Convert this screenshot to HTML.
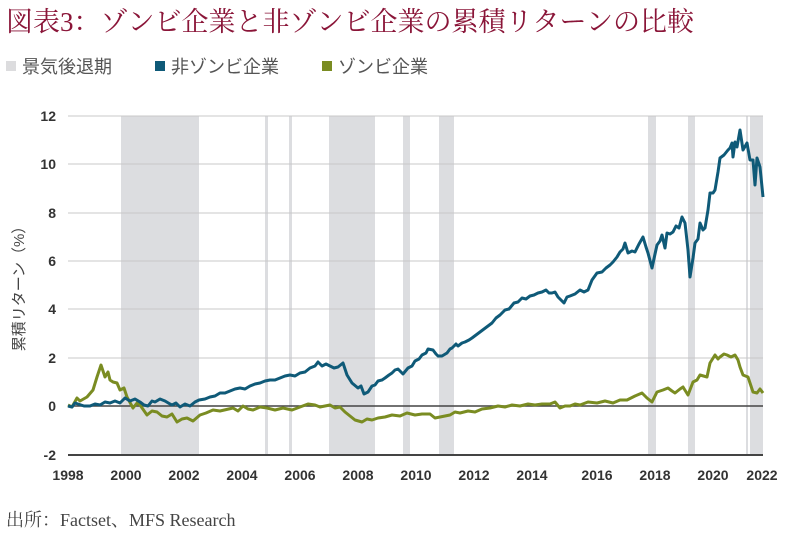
<!DOCTYPE html>
<html><head><meta charset="utf-8">
<style>
body{margin:0;background:#fff;width:800px;height:544px;overflow:hidden}
svg{display:block}
</style></head><body>
<svg width="800" height="544" viewBox="0 0 800 544" xmlns="http://www.w3.org/2000/svg">
<text x="6" y="31" font-family="Liberation Serif, Noto Serif CJK SC, serif" font-size="27" fill="#8a1538">図表3：ゾンビ企業と非ゾンビ企業の累積リターンの比較</text>
<g font-family="Liberation Sans, Noto Sans CJK JP, sans-serif" font-size="18" fill="#555">
<rect x="6" y="61" width="10" height="10" fill="#dcdcde"/><text x="22" y="73">景気後退期</text>
<rect x="155" y="61" width="10" height="10" fill="#0f5a78"/><text x="171" y="73">非ゾンビ企業</text>
<rect x="322" y="61" width="10" height="10" fill="#7a8c22"/><text x="338" y="73">ゾンビ企業</text>
</g>
<g fill="#dcdde0">
<rect x="121" y="116" width="78" height="339"/>
<rect x="265" y="116" width="3" height="339"/>
<rect x="289" y="116" width="3" height="339"/>
<rect x="329" y="116" width="46" height="339"/>
<rect x="403" y="116" width="7" height="339"/>
<rect x="439" y="116" width="15" height="339"/>
<rect x="648" y="116" width="8" height="339"/>
<rect x="688" y="116" width="7" height="339"/>
<rect x="746" y="116" width="2" height="339"/>
<rect x="750" y="116" width="13" height="339"/>
</g>
<g stroke="#c8c8c8" stroke-width="1">
<line x1="68" x2="763" y1="116" y2="116"/><line x1="68" x2="763" y1="164" y2="164"/>
<line x1="68" x2="763" y1="213" y2="213"/><line x1="68" x2="763" y1="261" y2="261"/>
<line x1="68" x2="763" y1="309" y2="309"/><line x1="68" x2="763" y1="358" y2="358"/>
</g>
<line x1="68" x2="763" y1="406" y2="406" stroke="#444" stroke-width="1.5"/>
<line x1="68" x2="763" y1="455" y2="455" stroke="#444" stroke-width="2"/>
<g font-family="Liberation Sans, sans-serif" font-size="14" font-weight="bold" fill="#333" text-anchor="end">
<text x="56" y="121">12</text><text x="56" y="169">10</text><text x="56" y="218">8</text>
<text x="56" y="266">6</text><text x="56" y="314">4</text><text x="56" y="363">2</text>
<text x="56" y="411">0</text><text x="56" y="460">-2</text>
</g>
<g font-family="Liberation Sans, sans-serif" font-size="14" font-weight="bold" fill="#333" text-anchor="middle">
<text x="68" y="480">1998</text><text x="126" y="480">2000</text><text x="184" y="480">2002</text>
<text x="242" y="480">2004</text><text x="300" y="480">2006</text><text x="358" y="480">2008</text>
<text x="416" y="480">2010</text><text x="474" y="480">2012</text><text x="532" y="480">2014</text>
<text x="597" y="480">2016</text><text x="655" y="480">2018</text><text x="713" y="480">2020</text>
<text x="762" y="480">2022</text>
</g>
<text transform="translate(24,285) rotate(-90)" text-anchor="middle" font-family="Liberation Sans, Noto Sans CJK JP, sans-serif" font-size="15" fill="#444">累積リターン（%）</text>
<polyline fill="none" stroke="#7a8c22" stroke-width="3" stroke-linejoin="round" points="68,405 72,407 77,398 80,401 87,397 93,390 97,377 101,365 105,377 108,372 110,380 113,382 117,383 120,390 124,388 127,397 133,408 137,403 140,405 147,415 152,411 157,412 162,416 167,417 172,414 177,422 182,419 187,418 193,421 200,415 206,413 213,410 220,411 233,408 238,411 243,406 248,409 253,410 260,407 267,408 275,410 283,408 292,410 300,407 308,404 315,405 320,407 325,406 330,405 335,408 340,407 345,412 350,416 355,420 362,422 367,419 372,420 378,418 385,417 392,415 400,416 407,413 415,415 422,414 430,414 435,418 440,417 445,416 450,415 455,412 460,413 468,411 475,412 482,409 490,408 498,406 505,407 512,405 520,406 528,404 535,405 542,404 550,404 555,402 560,408 565,406 570,406 575,404 580,405 588,402 597,403 605,401 613,403 620,400 627,400 635,396 642,393 647,398 652,402 657,392 663,390 668,388 672,391 675,393 680,389 683,387 688,395 693,382 697,380 700,375 707,377 710,363 715,355 718,359 720,357 724,354 727,355 731,357 735,355 738,360 740,367 743,375 748,377 751,386 753,392 757,393 760,389 763,393"/>
<polyline fill="none" stroke="#0f5a78" stroke-width="3" stroke-linejoin="round" points="68,406 72,407 75,403 78,404 84,406 90,406 95,404 100,405 105,402 110,403 115,401 120,403 125,398 130,401 135,399 140,402 144,405 148,406 152,401 155,402 160,399 165,401 170,404 172,405 176,403 180,407 185,404 190,406 195,402 199,400 205,399 210,397 215,396 220,393 225,393 230,391 235,389 240,388 245,389 250,386 255,384 260,383 265,381 270,380 275,380 280,378 285,376 290,375 295,376 300,373 305,372 310,368 315,366 318,362 322,366 326,364 330,366 334,368 338,367 343,363 347,375 352,383 358,388 361,386 364,394 368,392 372,386 375,385 378,381 382,380 385,378 389,375 392,373 395,370 398,369 403,374 408,368 412,366 415,361 419,359 422,355 426,353 428,349 433,350 436,354 438,356 442,356 447,353 450,349 452,348 456,344 458,346 462,343 465,342 469,340 472,338 476,335 480,332 484,329 488,326 492,323 496,318 500,315 505,310 509,309 514,303 518,302 522,298 526,299 530,296 534,295 538,293 542,292 546,290 549,293 552,293 555,292 558,297 561,300 564,303 567,297 570,296 575,294 580,290 584,292 588,290 592,280 597,273 602,272 606,268 610,265 613,262 617,257 620,252 623,249 625,243 628,253 632,251 635,252 639,244 643,237 646,247 648,253 652,268 655,254 657,245 660,241 662,235 665,248 667,233 670,234 673,232 676,226 679,228 682,217 685,223 688,250 690,277 693,258 695,243 698,239 700,223 703,230 705,228 708,210 710,193 713,193 715,190 718,172 720,158 724,155 728,150 730,148 732,143 733,157 735,142 737,147 740,130 743,150 747,143 750,160 753,160 755,185 757,158 760,167 763,197"/>
<text x="6" y="526" font-family="Liberation Serif, Noto Serif CJK SC, serif" font-size="18" fill="#444">出所：Factset、MFS Research</text>
</svg>
</body></html>
